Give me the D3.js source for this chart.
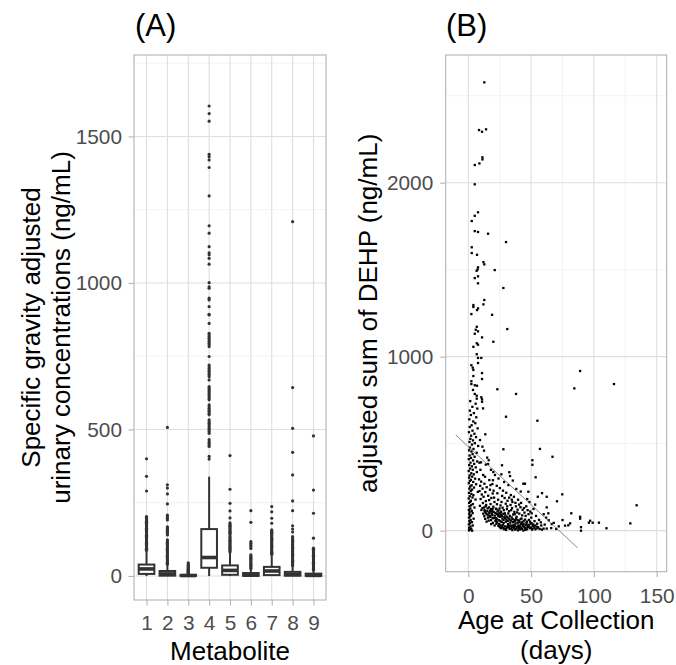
<!DOCTYPE html>
<html>
<head>
<meta charset="utf-8">
<script src="https://cdn.jsdelivr.net/npm/d3@7"></script>
<style>
  body { margin: 0; background: #fff; }
  svg { display: block; font-family: "Liberation Sans", Arial, sans-serif; }
</style>
</head>
<body>
<svg id="chart" width="676" height="665"></svg>
<script>
// ---------------- DATA ----------------
const metabolites = ["1","2","3","4","5","6","7","8","9"];
const boxQ1     = [7, 1, 0.5, 28, 4, 0.5, 3, 1, 0.5];
const boxMedian = [24, 7, 1.5, 63, 19, 3, 17, 5, 2];
const boxQ3     = [39, 17, 3.5, 160, 36, 10, 31, 14, 8];
const whiskLo   = [0, 0, 0, 0, 0, 0, 0, 0, 0];
const whiskHi   = [84, 38, 8, 339, 84, 24, 72, 33, 18];
const outliers1 = [400, 340, 290, 203, 199, 195, 191, 187, 183, 179, 175, 171, 167, 163, 159, 155, 151, 147, 143, 139, 135, 131, 127, 123, 119, 115, 111, 107, 103, 99, 95, 91, 87];
const outliers2 = [507, 311, 300, 280, 246, 208, 203, 197, 191, 168, 164, 160, 156, 152, 148, 144, 140, 123, 119, 115, 111, 107, 103, 99, 95, 91, 87, 83, 79, 75, 71, 67, 63, 59, 55, 51, 47, 43, 40];
const outliers3 = [9, 11, 13, 15, 17, 19, 21, 23, 25, 28, 31, 34, 37, 41, 45];
const outliers4 = [1604, 1578, 1552, 1439, 1431, 1420, 1394, 1297, 1195, 1170, 1124, 1103, 1096, 1084, 1064, 1001, 987, 982, 948, 942, 919, 893, 891, 862, 828, 822, 817, 811, 805, 800, 794, 789, 783, 749, 720, 714, 708, 702, 697, 691, 686, 680, 669, 646, 641, 635, 630, 624, 618, 612, 606, 601, 584, 578, 572, 566, 561, 555, 550, 533, 527, 521, 516, 510, 504, 498, 493, 487, 465, 459, 453, 447, 442, 408, 399];
const outliers5 = [411, 296, 248, 222, 198, 181, 177, 173, 169, 165, 161, 157, 153, 149, 145, 141, 134, 130, 126, 122, 118, 114, 110, 106, 102, 98, 94, 90, 86, 82];
const outliers6 = [223, 183, 117, 112, 106, 100, 94, 72, 68, 64, 60, 56, 52, 48, 44, 40, 36, 32, 28, 25];
const outliers7 = [237, 219, 197, 180, 157, 153, 149, 145, 141, 137, 133, 129, 125, 121, 117, 113, 109, 105, 101, 97, 93, 89, 85, 81, 77, 74];
const outliers8 = [1209, 643, 504, 422, 345, 256, 223, 171, 160, 150, 134, 130, 126, 122, 118, 114, 110, 106, 102, 98, 94, 90, 86, 82, 78, 74, 70, 66, 62, 58, 54, 50, 46, 42, 38, 35];
const outliers9 = [478, 293, 214, 129, 95, 91, 87, 83, 79, 75, 71, 67, 63, 59, 55, 51, 47, 43, 39, 35, 31, 27, 23, 20];
const outliersAll = [outliers1, outliers2, outliers3, outliers4, outliers5, outliers6, outliers7, outliers8, outliers9];

const yTicksA = [0, 500, 1000, 1500];
const yMinorA = [250, 750, 1250, 1750];

// Panel B: [age (days), adjusted sum of DEHP (ng/mL)]
const dehpPoints = [
[12.7,2577],[8.5,2303],[10.9,2293],[14.1,2307],[11.2,2146],[11.2,2134],[8.8,2111],[5.1,2102],[5.1,1991],[7.7,1830],[5.1,1810],[2.7,1780],[5.1,1722],[7.7,1717],[15.7,1707],[30,1659],[2.7,1629],[2.7,1596],[6.9,1586],[12,1544],[12.7,1531],[7.7,1514],[7.4,1502],[6.6,1494],[21,1498],[5.1,1452],[7.7,1462],[7.7,1422],[27.9,1395],[12.7,1326],[12,1301],[4,1297],[4,1286],[7.7,1278],[6.9,1268],[2.4,1245],[18.9,1241],[6.7,1172],[7.7,1146],[5.9,1155],[31,1159],[5.1,1132],[10.9,1111],[19.9,1086],[6.7,1077],[7.7,1069],[4,1057],[6.7,1014],[7.7,993],[10.3,993],[7.7,964],[2.4,951],[3.5,937],[4,924],[10.9,906],[4,889],[10.9,872],[2.4,859],[2.4,843],[5.1,836],[6.9,833],[3.7,809],[23.1,813],[38,786],[5.1,786],[6.7,776],[10.3,767],[10.9,755],[6.7,759],[84.4,818],[89,918],[116,843],
[1.5,745],[5.8,730],[3.2,712],[7.1,702],[1.2,690],[4.4,676],[2.0,665],[6.3,652],[0.8,640],[3.9,628],[5.5,618],[2.6,606],[1.1,596],[7.4,588],[3.3,575],[0.5,566],[4.8,557],[2.2,546],[6.1,538],[1.6,528],[3.7,519],[0.9,510],[5.2,503],[2.9,495],[7.8,487],[1.3,478],[4.1,470],[0.6,462],[2.5,455],[6.6,448],[3.4,440],[1.0,432],[5.0,425],[2.1,418],[0.4,411],[3.8,404],[7.0,398],[1.7,391],[4.6,384],[0.7,377],[2.8,370],[5.9,364],[1.4,357],[3.5,350],[0.3,343],[6.8,337],[2.3,330],[4.3,324],[1.0,318],[3.1,311],[0.6,305],[5.4,299],[2.0,292],[1.2,286],[3.9,280],[0.4,273],[6.2,267],[2.6,261],[1.5,254],[4.5,248],[0.8,242],[3.0,236],[1.9,229],[7.5,223],[0.5,217],[2.4,211],[4.0,204],[1.1,198],[3.3,191],[0.3,185],[5.7,179],[2.0,172],[1.4,166],[0.6,160],[3.6,153],[2.2,146],[0.9,140],[4.9,133],[1.6,127],[0.4,120],[2.7,114],[1.0,108],[3.4,101],[0.7,95],[2.1,88],[1.3,82],[0.5,75],[4.2,69],[1.8,62],[0.8,56],[2.9,49],[1.2,43],[0.4,36],[3.5,30],[1.7,24],[0.6,17],[2.3,11],[1.0,5],[0.5,2],[3.0,0],
[10.9,741],[11.7,703],[13.5,554],[9.3,521],[11.2,483],[8.8,391],[10.1,393],[15.7,383],[19.9,337],[26.8,376],[26.3,324],[32.6,336],[33.2,314],[13.3,310],[16.7,291],[19.1,268],[43.8,270],[45.1,270],[47.8,224],[58.7,216],[55.3,195],[62.4,195],[62.4,134],[63.7,100],[66.4,38],[62.4,12],[27.9,468],[30,655],
[8.5,295],[10.2,282],[12.8,270],[9.4,258],[14.6,250],[11.3,242],[17.2,236],[8.9,228],[13.5,222],[19.4,214],[10.7,208],[15.8,201],[12.1,195],[18.3,188],[9.8,182],[16.5,176],[13.9,170],[20.8,165],[11.6,159],[17.7,153],[14.2,148],[9.2,143],[19.9,138],[12.5,133],[15.3,128],[22.4,124],[10.4,119],[18.6,115],[13.1,110],[16.9,106],[21.5,102],[11.9,98],[14.8,94],[19.1,90],[24.2,86],[12.7,83],[17.4,79],[15.6,75],[20.3,72],[13.4,68],[22.9,65],[18.1,61],[16.2,58],[25.5,55],[14.5,52],
[16.7,100],[17.4,115],[19.3,126],[21.9,127],[24.0,117],[24.7,100],[24.0,83],[22.0,73],[19.3,73],[17.4,85],
[20.5,190],[23.7,178],[26.4,165],[28.9,188],[31.2,172],[22.8,152],[25.6,145],[27.3,132],[29.8,155],[33.6,148],[35.1,165],[37.9,140],[24.9,128],[28.2,118],[30.7,124],[32.4,112],[34.8,130],[36.6,108],[39.2,121],[41.5,135],[26.1,105],[27.9,96],[29.5,88],[31.8,99],[33.1,85],[35.7,93],[38.4,80],[40.6,98],[42.9,88],[44.7,104],[23.5,92],[25.2,80],[27.0,70],[28.6,77],[30.3,64],[32.0,72],[33.9,58],[35.2,67],[37.1,54],[39.0,62],[40.8,49],[42.3,70],[44.1,57],[46.3,45],[48.2,62],[24.4,60],[26.5,50],[28.1,44],[29.9,52],[31.6,38],[33.4,46],[35.9,34],[37.6,41],[39.7,30],[41.9,38],[43.5,26],[45.8,33],[47.4,22],[49.6,40],[51.3,28],[27.4,32],[29.1,25],[30.8,18],[32.7,28],[34.3,15],[36.2,22],[38.1,12],[40.2,20],[42.6,10],[44.9,16],[46.7,8],[48.9,14],[50.8,6],[52.5,18],[26.0,14],[28.4,8],[30.1,4],[32.9,10],[35.0,3],[37.3,6],[39.5,2],[41.2,7],[43.8,1],[45.4,5],[21.6,55],[22.3,40],[23.9,28],[25.0,20],[19.5,45],[20.9,30],[18.2,38],[36.9,95],[38.8,105],[34.1,118],[31.0,140],[29.0,100],[25.8,110],[43.2,120],[45.6,85],[47.9,95],[50.1,75],[52.7,55],[54.8,40],[56.3,62],[58.1,30],[53.9,85],[55.6,20],[57.7,48],[59.9,12],[60.8,35],[49.3,110],[51.9,125],[46.1,140],[42.0,160],[39.6,178],[36.3,195],[33.8,205],[30.2,218],[27.6,230],[25.1,245],[22.6,258],[38.2,240],[41.7,225],[46.9,182],[48.6,165],[53.2,150],[28.5,280],[31.9,262],[35.4,288],[24.0,300],[21.2,320],[18.0,350],[15.0,420],[12.5,460],[34.6,178],[32.5,190],[37.5,160],[40.4,150],[44.3,130],[47.2,118],[50.4,100],[26.9,200],[23.1,215],[20.1,230],[17.6,262],[19.6,290],[11.8,320],[9.6,350],[13.9,380],[16.2,405],
[13.8,140],[15.1,112],[16.4,134],[18.8,98],[20.2,108],[22.6,96],[23.2,110],[25.9,92],[26.8,84],[28.0,62],[29.3,72],[30.9,80],[31.4,56],[32.8,64],[34.5,76],[35.6,50],[36.8,62],[38.0,70],[39.3,46],[40.3,58],[41.6,66],[42.8,48],[44.0,40],[45.2,64],[46.6,52],[48.0,34],[49.1,52],[50.3,44],[51.6,36],[52.9,30],[54.2,24],[21.0,86],[22.0,60],[23.0,48],[24.6,38],[25.6,30],[26.7,22],[27.8,16],[29.6,12],[31.2,26],[32.2,20],[33.7,30],[34.9,24],[36.1,14],[37.0,28],[38.6,22],[39.9,14],[40.9,28],[42.1,18],[43.4,34],[44.6,24],[45.9,14],[47.0,30],[48.4,24],[49.8,18],[51.0,12],[53.4,8],[54.9,14],[56.8,10],[58.6,6],[19.0,110],[18.0,124],[15.9,88],[14.0,100],[12.9,118],[11.2,130],
[75,61],[77,29],[79.6,31],[81,42],[82,100],[89,80],[89,69],[97,57],[96,46],[99,46],[104,46],[89.7,20],[89.7,0],[110,14],[129,42],[134,146],[74.8,209],[70.6,169],[67,425],[57,470],[55,632],[51,405],[51,379],[53.6,307],[64,60],[68,45],[72,25],[66,15],[62,75],[60,95],[70,10]
];
const trendAge   = [-10, 87];
const trendValue = [550, -98];

const xTicksB = [0, 50, 100, 150];
const xMinorB = [25, 75, 125];
const yTicksB = [0, 1000, 2000];
const yMinorB = [500, 1500, 2500];

// ---------------- DRAW ----------------
const svg = d3.select("#chart");
svg.append("rect").attr("width", 676).attr("height", 665).attr("fill", "#fff");

const GRID_MAJOR = "#dedede", GRID_MINOR = "#ececec", BORDER = "#b3b3b3";
const TICK_COL = "#4d4d4d";
const TICK_FS = 20.8, TITLE_FS = 26, TAG_FS = 31;

// ===== Panel A =====
const A = {l: 134, r: 326, t: 55, b: 600};
const xA = d3.scalePoint().domain(metabolites).range([A.l, A.r]).padding(0.6);
const yA = d3.scaleLinear().domain([-82, 1778]).range([A.b, A.t]);
const step = xA.step();
const boxW = step * 0.75;

const gA = svg.append("g");
gA.selectAll(".minA").data(yMinorA).join("line")
  .attr("x1", A.l).attr("x2", A.r).attr("y1", d => yA(d)).attr("y2", d => yA(d))
  .attr("stroke", GRID_MINOR).attr("stroke-width", 0.7);
gA.selectAll(".majA").data(yTicksA).join("line")
  .attr("x1", A.l).attr("x2", A.r).attr("y1", d => yA(d)).attr("y2", d => yA(d))
  .attr("stroke", GRID_MAJOR).attr("stroke-width", 1.1);
gA.selectAll(".majAx").data(metabolites).join("line")
  .attr("x1", d => xA(d)).attr("x2", d => xA(d)).attr("y1", A.t).attr("y2", A.b)
  .attr("stroke", GRID_MAJOR).attr("stroke-width", 1.1);

const BOX_COL = "#333333";
metabolites.forEach((m, i) => {
  const cx = xA(m);
  const g = gA.append("g");
  g.append("line").attr("x1", cx).attr("x2", cx).attr("y1", yA(boxQ3[i])).attr("y2", yA(whiskHi[i]))
    .attr("stroke", BOX_COL).attr("stroke-width", 2);
  g.append("line").attr("x1", cx).attr("x2", cx).attr("y1", yA(boxQ1[i])).attr("y2", yA(whiskLo[i]))
    .attr("stroke", BOX_COL).attr("stroke-width", 2);
  g.append("rect").attr("x", cx - boxW / 2).attr("width", boxW)
    .attr("y", yA(boxQ3[i])).attr("height", yA(boxQ1[i]) - yA(boxQ3[i]))
    .attr("fill", "#fff").attr("stroke", BOX_COL).attr("stroke-width", 2);
  g.append("line").attr("x1", cx - boxW / 2).attr("x2", cx + boxW / 2)
    .attr("y1", yA(boxMedian[i])).attr("y2", yA(boxMedian[i]))
    .attr("stroke", BOX_COL).attr("stroke-width", 3.6);
  g.selectAll("circle").data(outliersAll[i]).join("circle")
    .attr("cx", cx).attr("cy", d => yA(d)).attr("r", 1.6).attr("fill", BOX_COL);
});

gA.append("rect").attr("x", A.l).attr("y", A.t).attr("width", A.r - A.l).attr("height", A.b - A.t)
  .attr("fill", "none").attr("stroke", BORDER).attr("stroke-width", 1.1);

const axLA = svg.append("g").attr("transform", `translate(${A.l},0)`)
  .call(d3.axisLeft(yA).tickValues(yTicksA).tickFormat(d3.format("d")).tickSize(5.5).tickPadding(6.5));
const axBA = svg.append("g").attr("transform", `translate(0,${A.b})`)
  .call(d3.axisBottom(xA).tickSize(5.5).tickPadding(9.7));

// ===== Panel B =====
const B = {l: 445.7, r: 666.7, t: 55, b: 571.7};
const xB = d3.scaleLinear().domain([-18, 158]).range([B.l, B.r]);
const yB = d3.scaleLinear().domain([-236, 2734]).range([B.b, B.t]);
const gB = svg.append("g");
gB.selectAll(".minBy").data(yMinorB).join("line")
  .attr("x1", B.l).attr("x2", B.r).attr("y1", d => yB(d)).attr("y2", d => yB(d))
  .attr("stroke", GRID_MINOR).attr("stroke-width", 0.7);
gB.selectAll(".minBx").data(xMinorB).join("line")
  .attr("x1", d => xB(d)).attr("x2", d => xB(d)).attr("y1", B.t).attr("y2", B.b)
  .attr("stroke", GRID_MINOR).attr("stroke-width", 0.7);
gB.selectAll(".majBy").data(yTicksB).join("line")
  .attr("x1", B.l).attr("x2", B.r).attr("y1", d => yB(d)).attr("y2", d => yB(d))
  .attr("stroke", GRID_MAJOR).attr("stroke-width", 1.1);
gB.selectAll(".majBx").data(xTicksB).join("line")
  .attr("x1", d => xB(d)).attr("x2", d => xB(d)).attr("y1", B.t).attr("y2", B.b)
  .attr("stroke", GRID_MAJOR).attr("stroke-width", 1.1);

gB.selectAll(".pt").data(dehpPoints).join("rect")
  .attr("x", d => xB(d[0]) - 1.1).attr("y", d => yB(d[1]) - 1.1)
  .attr("width", 2.3).attr("height", 2.3).attr("fill", "#000");

gB.append("line")
  .attr("x1", xB(trendAge[0])).attr("y1", yB(trendValue[0]))
  .attr("x2", xB(trendAge[1])).attr("y2", yB(trendValue[1]))
  .attr("stroke", "#555").attr("stroke-width", 0.7);

gB.append("rect").attr("x", B.l).attr("y", B.t).attr("width", B.r - B.l).attr("height", B.b - B.t)
  .attr("fill", "none").attr("stroke", BORDER).attr("stroke-width", 1.1);

const axLB = svg.append("g").attr("transform", `translate(${B.l},0)`)
  .call(d3.axisLeft(yB).tickValues(yTicksB).tickFormat(d3.format("d")).tickSize(5.5).tickPadding(7));
const axBB = svg.append("g").attr("transform", `translate(0,${B.b})`)
  .call(d3.axisBottom(xB).tickValues(xTicksB).tickFormat(d3.format("d")).tickSize(5.5).tickPadding(11));

[axLA, axBA, axLB, axBB].forEach(ax => {
  ax.select(".domain").remove();
  ax.selectAll(".tick line").attr("stroke", BORDER).attr("stroke-width", 1.1);
  ax.selectAll(".tick text").attr("fill", TICK_COL)
    .style("font-size", TICK_FS + "px").style("font-family", '"Liberation Sans", Arial, sans-serif');
});

// ===== Titles =====
const tA = svg.append("text").attr("transform", `translate(40,${(A.t + A.b) / 2}) rotate(-90)`)
  .attr("text-anchor", "middle").style("font-size", TITLE_FS + "px").attr("fill", "#000");
tA.append("tspan").attr("x", 0).attr("y", 0).text("Specific gravity adjusted");
tA.append("tspan").attr("x", 0).attr("y", 30).text("urinary concentrations (ng/mL)");

svg.append("text").attr("transform", `translate(377,${(B.t + B.b) / 2}) rotate(-90)`)
  .attr("text-anchor", "middle").style("font-size", TITLE_FS + "px").attr("fill", "#000")
  .text("adjusted sum of DEHP (ng/mL)");

svg.append("text").attr("x", (A.l + A.r) / 2).attr("y", 660).attr("text-anchor", "middle")
  .style("font-size", TITLE_FS + "px").attr("fill", "#000").text("Metabolite");

svg.append("text").attr("x", (B.l + B.r) / 2).attr("y", 629).attr("text-anchor", "middle")
  .style("font-size", TITLE_FS + "px").attr("fill", "#000").text("Age at Collection");
svg.append("text").attr("x", (B.l + B.r) / 2).attr("y", 659).attr("text-anchor", "middle")
  .style("font-size", TITLE_FS + "px").attr("fill", "#000").text("(days)");

svg.append("text").attr("x", 135).attr("y", 36).style("font-size", TAG_FS + "px").attr("fill", "#000").text("(A)");
svg.append("text").attr("x", 446).attr("y", 36).style("font-size", TAG_FS + "px").attr("fill", "#000").text("(B)");
</script>
</body>
</html>
